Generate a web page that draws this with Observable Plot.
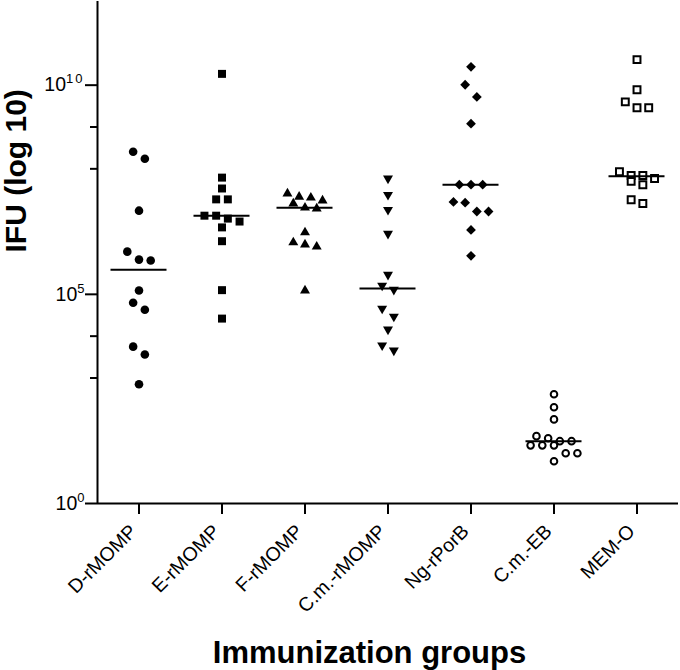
<!DOCTYPE html>
<html><head><meta charset="utf-8">
<script src="https://cdn.jsdelivr.net/npm/d3@7"></script>
<script src="https://cdn.jsdelivr.net/npm/@observablehq/plot@0.6"></script>
<style>body{margin:0;background:#fff}</style>
</head><body><div id="chart"></div>
<script>
// Categories
const groups = ["D-rMOMP","E-rMOMP","F-rMOMP","C.m.-rMOMP","Ng-rPorB","C.m.-EB","MEM-O"];
// Values: log10 of IFU per animal
const dRMOMP  = [8.41, 8.24, 7.00, 6.02, 5.83, 5.81, 5.09, 4.80, 4.63, 3.75, 3.56, 2.85];
const eRMOMP  = [10.27, 7.79, 7.53, 7.27, 7.27, 6.88, 6.88, 6.81, 6.74, 6.60, 6.27, 5.10, 4.42];
const fRMOMP  = [7.41, 7.33, 7.31, 7.24, 7.17, 7.07, 7.05, 6.48, 6.24, 6.19, 6.14, 5.09];
const cmRMOMP = [7.77, 7.38, 7.02, 6.45, 5.47, 5.21, 5.11, 4.66, 4.47, 4.16, 3.78, 3.66];
const ngRPorB = [10.44, 10.01, 9.72, 9.08, 7.62, 7.62, 7.62, 7.21, 7.19, 6.98, 6.98, 6.54, 5.92];
const cmEB    = [2.61, 2.30, 2.01, 1.61, 1.56, 1.49, 1.49, 1.39, 1.39, 1.39, 1.20, 1.20, 1.01];
const memO    = [10.61, 9.89, 9.60, 9.46, 9.46, 7.93, 7.84, 7.84, 7.77, 7.70, 7.62, 7.26, 7.17];
const medians = [5.59, 6.88, 7.07, 5.14, 7.62, 1.49, 7.82];
// Axis ticks (exponents)
const yMajor = [0, 5, 10];
const yMinor = [3, 4, 8, 9];

const series = [dRMOMP, eRMOMP, fRMOMP, cmRMOMP, ngRPorB, cmEB, memO];

// layout
const W = 680, H = 670, mL = 97, mR = 2, mT = 1, mB = 167;
const decadePx = (H - mB - mT) / 12;
const unitPx = (W - mL - mR) / groups.length;
const spacePx = 11.7;

// marker styles (rowPx = vertical extent used to group points into a row)
const sym = [
  {style: {symbol: "circle", r: 4.3, fill: "black", stroke: "none"}, rowPx: 9.5},
  {style: {symbol: "square", r: 4.5, fill: "black", stroke: "none"}, rowPx: 9.5},
  {style: {symbol: "triangle", r: 3.7, fill: "black", stroke: "none"}, rowPx: 9.5},
  {style: {symbol: "triangle", r: 3.7, fill: "black", stroke: "none", rotate: 180}, rowPx: 9.5},
  {style: {symbol: "diamond2", r: 4.4, fill: "black", stroke: "none"}, rowPx: 12.5},
  {style: {symbol: "circle", r: 3.3, fill: "white", stroke: "black", strokeWidth: 2}, rowPx: 8},
  {style: {symbol: "square", r: 3.9, fill: "white", stroke: "black", strokeWidth: 2}, rowPx: 9.5}
];

function scatterRows(vals, gi, rowPx) {
  const sorted = vals.map((e, k) => ({e, k})).sort((a, b) => b.e - a.e || a.k - b.k);
  const rows = [];
  for (const p of sorted) {
    const row = rows[rows.length - 1];
    if (row && (row[0].e - p.e) * decadePx < rowPx) row.push(p); else rows.push([p]);
  }
  const out = [];
  for (const row of rows) row.forEach((p, i) => out.push({g: gi, e: p.e, xo: gi + (i - (row.length - 1) / 2) * spacePx / unitPx}));
  return out;
}
const pts = series.map((v, i) => scatterRows(v, i, sym[i].rowPx));

const halfMed = 28 / unitPx;
const font = "'Liberation Sans', Arial, Helvetica, sans-serif";

const svg = Plot.plot({
  width: W, height: H,
  marginLeft: mL, marginRight: mR, marginTop: mT, marginBottom: mB,
  style: {fontFamily: font, color: "black", background: "white", overflow: "visible"},
  x: {type: "linear", domain: [-0.5, groups.length - 0.5], axis: null, label: null},
  y: {type: "log", domain: [1, 1e12], axis: null, label: null},
  marks: [
    Plot.axisY(yMajor.map(e => 10 ** e), {tickSize: 12, tickPadding: 1, strokeWidth: 2, fontSize: 19.5, label: null,
      tickFormat: d => String(Math.round(Math.log10(d)))}),
    Plot.axisY(yMinor.map(e => 10 ** e), {tickSize: 7, strokeWidth: 2, tickFormat: () => "", label: null}),
    Plot.axisX(d3.range(groups.length), {tickSize: 11, strokeWidth: 2, tickFormat: () => "", label: null}),
    Plot.ruleX([-0.5], {strokeWidth: 2}),
    Plot.ruleY([1], {strokeWidth: 2}),
    ...pts.map((p, i) => Plot.dot(p, {x: "xo", y: d => 10 ** d.e, ...sym[i].style})),
    Plot.ruleY(d3.range(groups.length), {y: i => 10 ** medians[i], x1: i => i - halfMed, x2: i => i + halfMed, strokeWidth: 2}),
    Plot.text(d3.range(groups.length), {x: d => d, text: d => groups[d], frameAnchor: "bottom",
      rotate: -45, textAnchor: "end", lineAnchor: "bottom", dx: -1, dy: 29, fontSize: 19.5}),
    Plot.text(["Immunization groups"], {frameAnchor: "bottom", lineAnchor: "bottom", dy: 159, dx: -18.5,
      fontSize: 31, fontWeight: "bold"}),
    Plot.text(["IFU (log 10)"], {frameAnchor: "left", rotate: -90, lineAnchor: "bottom", dx: -72,
      fontSize: 30, fontWeight: "bold"})
  ]
});

// superscript exponents on the y tick labels
const ns = "http://www.w3.org/2000/svg";
svg.querySelectorAll('g[aria-label="y-axis tick label"] text').forEach(t => {
  const exp = t.textContent;
  if (!exp) return;
  t.textContent = "";
  const b = document.createElementNS(ns, "tspan");
  b.textContent = "10";
  const s = document.createElementNS(ns, "tspan");
  s.textContent = exp;
  s.setAttribute("dy", "-8");
  s.setAttribute("font-size", "13");
  if (exp.length > 1) s.setAttribute("letter-spacing", "2");
  t.appendChild(b); t.appendChild(s);
});
document.getElementById("chart").appendChild(svg);
</script>
</body></html>
